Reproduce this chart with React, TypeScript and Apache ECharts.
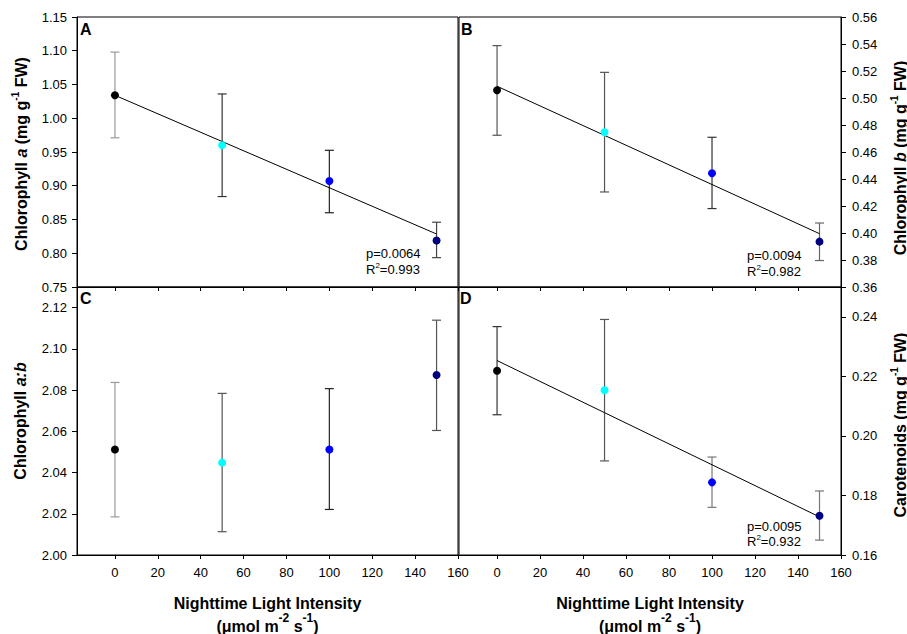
import React, { useEffect, useRef } from 'react';
import * as echarts from 'echarts';

// ---------- data ----------
const lightLevels = [0, 50, 100, 150];
const xTicks = [0, 20, 40, 60, 80, 100, 120, 140, 160];
const pointColors = ['#000000', '#00ffff', '#0000ff', '#000080'];

// Panel A: Chlorophyll a
const chlAMean = [1.034, 0.96, 0.907, 0.819];
const chlALow = [0.971, 0.884, 0.86, 0.7935];
const chlAHigh = [1.098, 1.036, 0.9525, 0.846];
const chlAFit = [1.034, 0.8285];
const chlATicks = [0.75, 0.8, 0.85, 0.9, 0.95, 1.0, 1.05, 1.1, 1.15];

// Panel B: Chlorophyll b
const chlBMean = [0.5057, 0.4746, 0.4442, 0.3936];
const chlBLow = [0.4724, 0.4304, 0.4181, 0.3796];
const chlBHigh = [0.5388, 0.519, 0.4709, 0.4074];
const chlBFit = [0.5087, 0.3995];
const chlBTicks = [0.36, 0.38, 0.4, 0.42, 0.44, 0.46, 0.48, 0.5, 0.52, 0.54, 0.56];

// Panel C: Chlorophyll a:b
const ratioMean = [2.0512, 2.0448, 2.0512, 2.0873];
const ratioLow = [2.0185, 2.0113, 2.0221, 2.0604];
const ratioHigh = [2.0837, 2.0784, 2.0807, 2.1139];
const ratioTicks = [2.0, 2.02, 2.04, 2.06, 2.08, 2.1, 2.12];

// Panel D: Carotenoids
const carMean = [0.2219, 0.2153, 0.1844, 0.1732];
const carLow = [0.2071, 0.1916, 0.176, 0.165];
const carHigh = [0.2367, 0.2391, 0.1929, 0.1815];
const carFit = [0.2253, 0.1728];
const carTicks = [0.16, 0.18, 0.2, 0.22, 0.24];

const fitX = [0, 150];

// ---------- styles ----------
const FONT = 'Liberation Sans, Arial, sans-serif';
const X_MIN = -17.7;
const X_MAX = 160;
const errColors = [
  ['#9a9a9a', '#333333', '#222222', '#444444'],
  ['#555555', '#555555', '#333333', '#666666'],
  ['#9a9a9a', '#555555', '#222222', '#555555'],
  ['#333333', '#555555', '#777777', '#777777'],
];

const grids = [
  { left: 77, top: 17, width: 381, height: 270 },
  { left: 459, top: 17, width: 382, height: 270 },
  { left: 77, top: 287, width: 381, height: 268 },
  { left: 459, top: 287, width: 382, height: 268 },
];

const panels = [
  { mean: chlAMean, low: chlALow, high: chlAHigh, fit: chlAFit, ticks: chlATicks, min: 0.75, max: 1.15, side: 'left' },
  { mean: chlBMean, low: chlBLow, high: chlBHigh, fit: chlBFit, ticks: chlBTicks, min: 0.36, max: 0.56, side: 'right' },
  { mean: ratioMean, low: ratioLow, high: ratioHigh, fit: null, ticks: ratioTicks, min: 2.0, max: 2.13, side: 'left' },
  { mean: carMean, low: carLow, high: carHigh, fit: carFit, ticks: carTicks, min: 0.16, max: 0.25, side: 'right' },
];

const supRich = (size: number, supSize: number, shift: number) => ({
  n: { fontSize: size, fontWeight: 'bold', fontFamily: FONT, fill: '#000', lineHeight: size + 2 },
  i: { fontSize: size, fontWeight: 'bold', fontStyle: 'italic', fontFamily: FONT, fill: '#000', lineHeight: size + 2 },
  s: { fontSize: supSize, fontWeight: 'bold', fontFamily: FONT, fill: '#000', lineHeight: supSize, padding: [0, 0, shift, 0] },
});

const plainRich = {
  n: { fontSize: 13, fontFamily: FONT, fill: '#000', lineHeight: 15 },
  s: { fontSize: 8, fontFamily: FONT, fill: '#000', lineHeight: 8, padding: [0, 0, 8, 0] },
};

function buildOption() {
  const xAxis: any[] = [];
  const yAxis: any[] = [];
  const series: any[] = [];

  grids.forEach((g, gi) => {
    const p = panels[gi];
    xAxis.push({
      type: 'value',
      gridIndex: gi,
      min: X_MIN,
      max: X_MAX,
      axisLine: { show: true, onZero: false, lineStyle: { color: '#000', width: 1 } },
      axisTick: { show: true, customValues: xTicks, length: 4, lineStyle: { color: '#000' } },
      axisLabel: {
        show: gi >= 2,
        customValues: xTicks,
        margin: 11,
        fontSize: 13,
        color: '#000',
        fontFamily: FONT,
      },
      splitLine: { show: false },
    });
    yAxis.push({
      type: 'value',
      gridIndex: gi,
      position: p.side,
      min: p.min,
      max: p.max,
      axisLine: { show: true, onZero: false, lineStyle: { color: '#000', width: 1 } },
      axisTick: { show: true, customValues: p.ticks, length: 5, lineStyle: { color: '#000' } },
      axisLabel: {
        customValues: p.ticks,
        formatter: (v: number) => v.toFixed(2),
        margin: p.side === 'left' ? 10 : 11,
        fontSize: 13,
        color: '#000',
        fontFamily: FONT,
      },
      splitLine: { show: false },
    });

    const colors = errColors[gi];
    series.push({
      type: 'custom',
      xAxisIndex: gi,
      yAxisIndex: gi,
      z: 2,
      data: lightLevels.map((x, k) => [x, p.low[k], p.high[k]]),
      encode: { x: 0, y: [1, 2] },
      renderItem: (params: any, api: any) => {
        const x = api.value(0);
        const lo = api.coord([x, api.value(1)]);
        const hi = api.coord([x, api.value(2)]);
        const hw = 4.5;
        const color = colors[params.dataIndex];
        const st = { stroke: color, lineWidth: 1.2 };
        return {
          type: 'group',
          children: [
            { type: 'line', shape: { x1: hi[0], y1: hi[1], x2: lo[0], y2: lo[1] }, style: st },
            { type: 'line', shape: { x1: hi[0] - hw, y1: hi[1], x2: hi[0] + hw, y2: hi[1] }, style: st },
            { type: 'line', shape: { x1: lo[0] - hw, y1: lo[1], x2: lo[0] + hw, y2: lo[1] }, style: st },
          ],
        };
      },
    });

    if (p.fit) {
      series.push({
        type: 'line',
        xAxisIndex: gi,
        yAxisIndex: gi,
        z: 3,
        showSymbol: false,
        symbol: 'none',
        lineStyle: { color: '#000', width: 1 },
        data: fitX.map((x, k) => [x, p.fit![k]]),
      });
    }

    series.push({
      type: 'scatter',
      xAxisIndex: gi,
      yAxisIndex: gi,
      z: 4,
      symbolSize: 8,
      itemStyle: { opacity: 1 },
      data: lightLevels.map((x, k) => ({ value: [x, p.mean[k]], itemStyle: { color: pointColors[k], opacity: 1 } })),
    });
  });

  const letter = (t: string, x: number, y: number) => ({
    type: 'text',
    x,
    y,
    style: { text: t, fontSize: 16, fontWeight: 'bold', fontFamily: FONT, fill: '#000', align: 'left', verticalAlign: 'middle' },
  });
  const stat = (t: string, x: number, y: number) => ({
    type: 'text',
    x,
    y,
    style: { text: t, rich: plainRich, align: 'left', verticalAlign: 'middle' },
  });
  const yTitle = (t: string, x: number, y: number) => ({
    type: 'text',
    x,
    y,
    rotation: Math.PI / 2,
    style: { text: t, rich: supRich(16, 10, 12), align: 'center', verticalAlign: 'middle' },
  });
  const xTitle1 = (x: number) => ({
    type: 'text',
    x,
    y: 603,
    style: { text: '{n|Nighttime Light Intensity}', rich: supRich(16, 12, 16), align: 'center', verticalAlign: 'middle' },
  });
  const xTitle2 = (x: number) => ({
    type: 'text',
    x,
    y: 626,
    style: { text: '{n|(μmol m}{s|-2}{n| s}{s|-1}{n|)}', rich: supRich(16, 12, 16), align: 'center', verticalAlign: 'middle' },
  });

  const graphic = [
    letter('A', 80, 29),
    letter('B', 461, 29),
    letter('C', 80, 298),
    letter('D', 460, 298),
    stat('{n|p=0.0064}', 366, 253),
    stat('{n|R}{s|2}{n|=0.993}', 366, 269),
    stat('{n|p=0.0094}', 747, 255),
    stat('{n|R}{s|2}{n|=0.982}', 747, 271),
    stat('{n|p=0.0095}', 747, 526),
    stat('{n|R}{s|2}{n|=0.932}', 747, 541),
    yTitle('{n|Chlorophyll }{i|a}{n| (mg g}{s|-1}{n| FW)}', 21, 154),
    yTitle('{n|Chlorophyll }{i|b}{n| (mg g}{s|-1}{n| FW)}', 900, 158),
    yTitle('{n|Chlorophyll }{i|a:b}', 20, 421),
    yTitle('{n|Carotenoids (mg g}{s|-1}{n| FW)}', 900, 425),
    xTitle1(267.5),
    xTitle2(267.5),
    xTitle1(650),
    xTitle2(650),
  ];

  return {
    animation: false,
    backgroundColor: '#ffffff',
    grid: grids.map((g) => ({ ...g, show: true, borderColor: '#000', borderWidth: 1, backgroundColor: 'transparent', containLabel: false })),
    xAxis,
    yAxis,
    series,
    graphic,
  };
}

export default function App() {
  const ref = useRef<HTMLDivElement>(null);
  useEffect(() => {
    if (!ref.current) return;
    const chart = echarts.init(ref.current, null, { renderer: 'svg' });
    chart.setOption(buildOption() as any);
    return () => chart.dispose();
  }, []);
  return (
    <div
      ref={ref}
      style={{ position: 'absolute', left: 0, top: 0, width: 907, height: 634, background: '#fff' }}
    />
  );
}
